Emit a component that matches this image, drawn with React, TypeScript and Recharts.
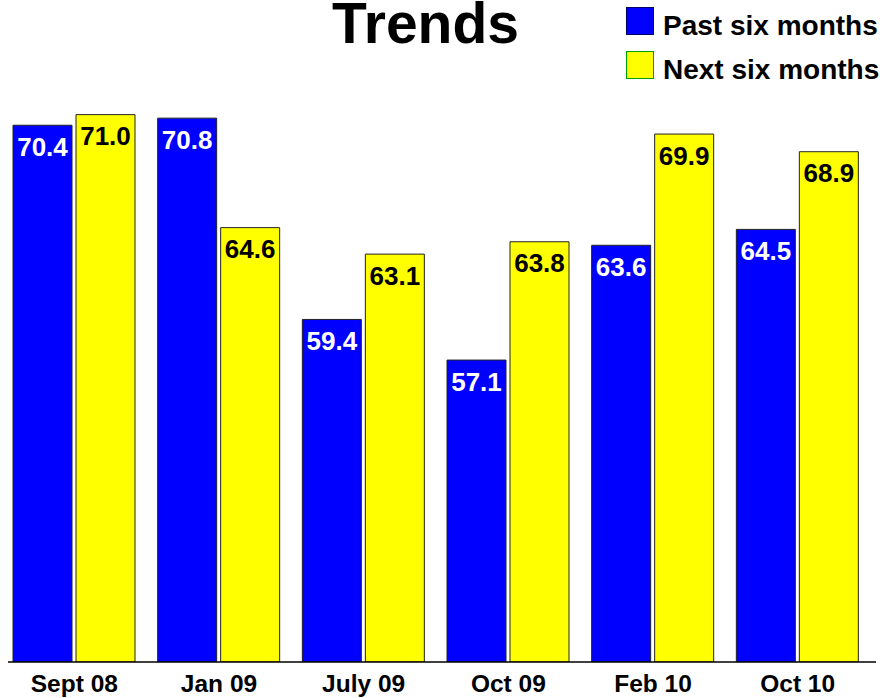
import React from 'react';
import { BarChart, Bar, XAxis, YAxis, LabelList } from 'recharts';

const categories = ['Sept 08', 'Jan 09', 'July 09', 'Oct 09', 'Feb 10', 'Oct 10'];
const pastSixMonths = [70.4, 70.8, 59.4, 57.1, 63.6, 64.5];
const nextSixMonths = [71.0, 64.6, 63.1, 63.8, 69.9, 68.9];
const seriesNames = ['Past six months', 'Next six months'];
const seriesColors = ['#0000ff', '#ffff00'];
const legendBorders = ['#000066', '#00a000'];
const titleText = 'Trends';

const data = categories.map((c, i) => ({ category: c, past: pastSixMonths[i], next: nextSixMonths[i] }));
const FONT = '"Liberation Sans", Arial, Helvetica, sans-serif';
const fmt = (v: any) => Number(v).toFixed(1);

export default function App() {
  return (
    <div style={{ position: 'absolute', left: 0, top: 0, width: 880, height: 698, background: '#fff', fontFamily: FONT }}>
      <BarChart width={880} height={698} data={data} margin={{ top: 44, right: 4, bottom: 0, left: 8 }} barGap={4} barCategoryGap={11}>
        <YAxis hide domain={[40, 75]} allowDataOverflow />
        <XAxis
          dataKey="category"
          height={36}
          axisLine={{ stroke: '#000', strokeWidth: 1.5 }}
          tickLine={false}
          tickSize={0}
          tickMargin={13}
          padding={{ left: -6, right: 6 }}
          interval={0}
          tick={{ fill: '#000', fontSize: 24.5, fontWeight: 'bold', fontFamily: FONT }}
        />
        <Bar dataKey="past" name={seriesNames[0]} fill={seriesColors[0]} stroke="#222" strokeWidth={1} isAnimationActive={false}>
          <LabelList dataKey="past" position="insideTop" offset={12} fill="#fff" fontSize={26} fontWeight="bold" fontFamily={FONT} formatter={fmt} />
        </Bar>
        <Bar dataKey="next" name={seriesNames[1]} fill={seriesColors[1]} stroke="#222" strokeWidth={1} isAnimationActive={false}>
          <LabelList dataKey="next" position="insideTop" offset={12} fill="#000" fontSize={26} fontWeight="bold" fontFamily={FONT} formatter={fmt} />
        </Bar>
      </BarChart>
      <svg style={{ position: 'absolute', left: 0, top: 0 }} width={880} height={100}>
        <text x={425.5} y={43} textAnchor="middle" fontSize={57} fontWeight="bold" fontFamily={FONT} fill="#000">{titleText}</text>
        {seriesNames.map((n, i) => (
          <g key={n}>
            <rect x={626.5} y={7.5 + i * 44} width={27} height={27} fill={seriesColors[i]} stroke={legendBorders[i]} strokeWidth={1} />
            <text x={663} y={35 + i * 43.5} fontSize={28} fontWeight="bold" fontFamily={FONT} fill="#000">{n}</text>
          </g>
        ))}
      </svg>
    </div>
  );
}
